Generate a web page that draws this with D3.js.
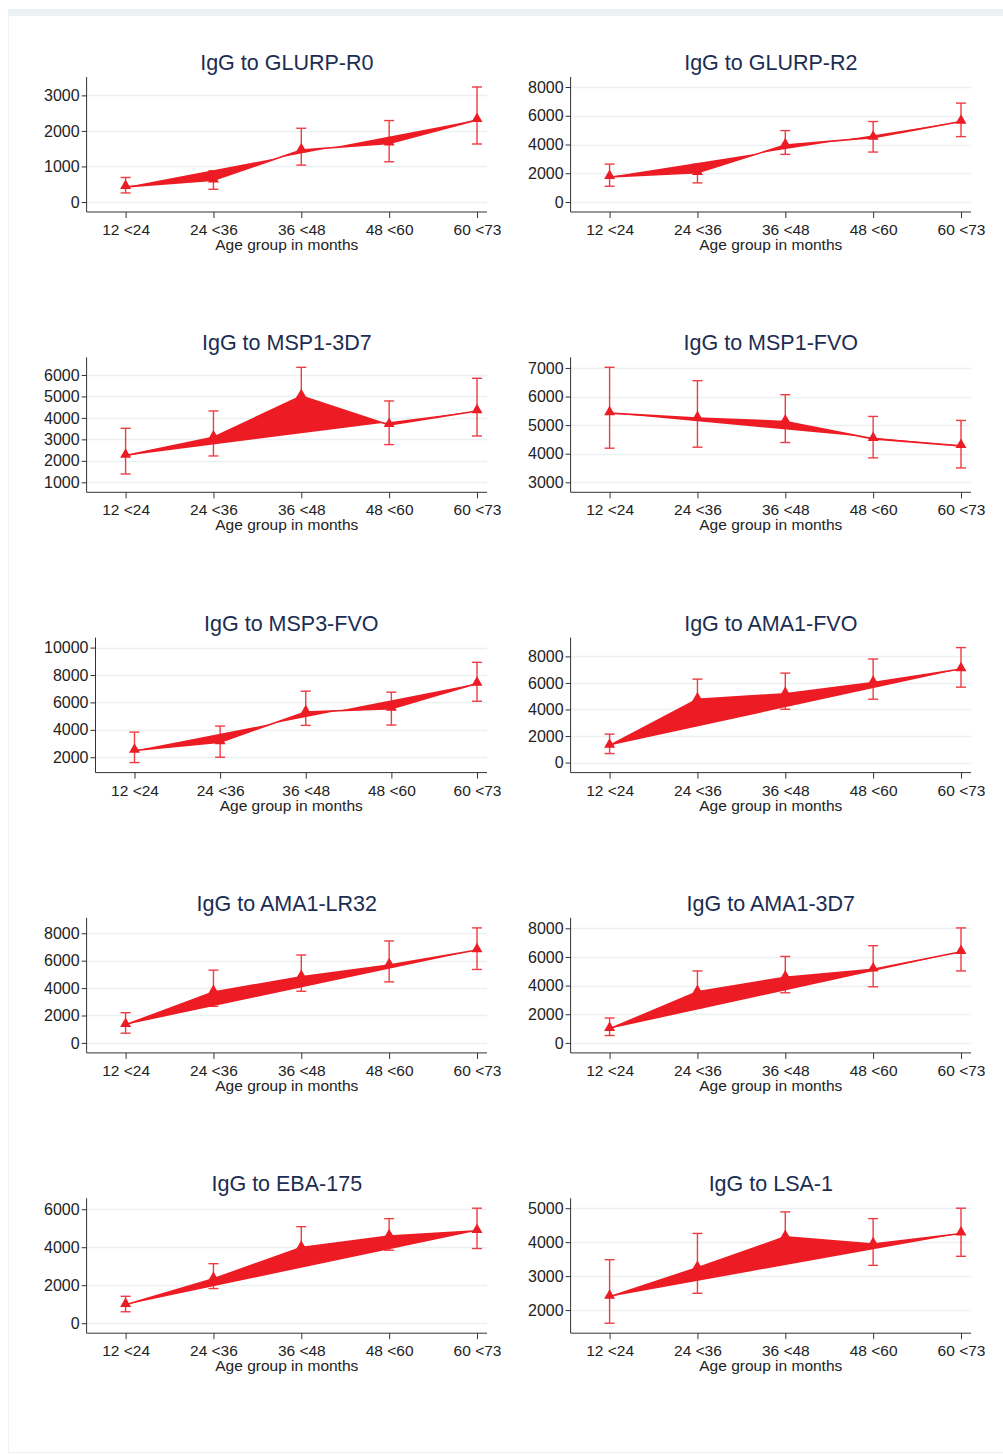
<!DOCTYPE html>
<html>
<head>
<meta charset="utf-8">
<script src="https://cdn.jsdelivr.net/npm/d3@7"></script>
<style>
  body { margin: 0; background: #fff; }
  svg text { font-family: "Liberation Sans", Arial, sans-serif; }
</style>
</head>
<body>
<svg id="chart" width="1003" height="1454"></svg>
<script>
var age_groups = ["12 <24", "24 <36", "36 <48", "48 <60", "60 <73"];

var titles = ["IgG to GLURP-R0", "IgG to GLURP-R2", "IgG to MSP1-3D7", "IgG to MSP1-FVO",
  "IgG to MSP3-FVO", "IgG to AMA1-FVO", "IgG to AMA1-LR32", "IgG to AMA1-3D7",
  "IgG to EBA-175", "IgG to LSA-1"];

var y_ticks = [
  [0, 1000, 2000, 3000],
  [0, 2000, 4000, 6000, 8000],
  [1000, 2000, 3000, 4000, 5000, 6000],
  [3000, 4000, 5000, 6000, 7000],
  [2000, 4000, 6000, 8000, 10000],
  [0, 2000, 4000, 6000, 8000],
  [0, 2000, 4000, 6000, 8000],
  [0, 2000, 4000, 6000, 8000],
  [0, 2000, 4000, 6000],
  [2000, 3000, 4000, 5000]
];

// mean titre per age group
var means = [
  [425, 613, 1462, 1650, 2311],
  [1750, 2030, 3965, 4478, 5598],
  [2242, 3096, 5022, 3671, 4323],
  [5421, 5246, 5129, 4520, 4275],
  [2489, 3101, 5303, 5547, 7382],
  [1288, 4773, 5177, 6035, 7045],
  [1321, 3719, 4820, 5676, 6777],
  [986, 3568, 4577, 5141, 6362],
  [973, 2336, 3982, 4584, 4867],
  [2396, 3248, 4158, 3941, 4257]
];

// upper / lower confidence limits
var upper = [
  [690, 880, 2075, 2292, 3236],
  [2636, 2620, 4968, 5598, 6880],
  [3516, 4323, 6357, 4789, 5845],
  [7023, 6556, 6064, 5304, 5164],
  [3835, 4275, 6820, 6746, 8924],
  [2146, 6288, 6742, 7803, 8662],
  [2202, 5309, 6410, 7437, 8391],
  [1737, 5023, 6033, 6784, 8028],
  [1416, 3133, 5080, 5504, 6053],
  [3485, 4257, 4891, 4693, 5000]
];

var lower = [
  [255, 358, 1038, 1132, 1632],
  [1096, 1330, 3312, 3475, 4548],
  [1388, 2227, 3800, 2755, 3158],
  [4193, 4228, 4392, 3854, 3503],
  [1609, 2000, 4324, 4349, 6086],
  [682, 3400, 4015, 4773, 5682],
  [709, 2667, 3768, 4453, 5358],
  [516, 2450, 3498, 3920, 5023],
  [602, 1823, 3050, 3841, 3929],
  [1614, 2495, 3450, 3317, 3584]
];

var red = "#ed1c24";
var bar_red = "#ef3c42";
var grid_col = "#e9f1f3";
var axis_col = "#333333";

var svg = d3.select("#chart");

// light frame round the graph
svg.append("rect").attr("x", 8).attr("y", 9).attr("width", 1003).attr("height", 7).attr("fill", "#eaf2f4");
svg.append("line").attr("x1", 8.5).attr("x2", 8.5).attr("y1", 9).attr("y2", 1452).attr("stroke", "#eaf2f4");
svg.append("line").attr("x1", 8).attr("x2", 1003).attr("y1", 1452.5).attr("y2", 1452.5).attr("stroke", "#eaf2f4");

function label_width(text, size) {
  var t = svg.append("text").attr("font-size", size).text(text);
  var w = t.node().getComputedTextLength();
  t.remove();
  return w;
}

function draw_panel(i) {
  var col = i % 2;
  var row = Math.floor(i / 2);
  var top = 77 + row * 280.3;
  var bottom = top + 135;
  var label_start = col == 0 ? 46 : 530;
  var right = col == 0 ? 487 : 971;

  var ticks = y_ticks[i];
  var max_w = d3.max(ticks, function(t) { return label_width(String(t), 16); });
  var left = label_start + max_w + 5;

  var x = d3.scalePoint().domain(age_groups).range([left + 39, right - 10]);
  var y_min = Math.min(ticks[0], d3.min(lower[i]));
  var y_max = Math.max(ticks[ticks.length - 1], d3.max(upper[i]));
  var y = d3.scaleLinear().domain([y_min, y_max]).range([bottom - 10, top + 10]);

  var g = svg.append("g").attr("class", "panel");

  // gridlines
  g.selectAll("line.grid").data(ticks).enter().append("line")
    .attr("class", "grid")
    .attr("x1", left).attr("x2", right)
    .attr("y1", function(d) { return Math.round(y(d)) + 0.5; })
    .attr("y2", function(d) { return Math.round(y(d)) + 0.5; })
    .attr("stroke", grid_col).attr("stroke-width", 1.3);

  // axes
  var y_axis = d3.axisLeft(y).tickValues(ticks).tickSize(5).tickPadding(2).tickFormat(d3.format("d"));
  var ya = g.append("g").attr("transform", "translate(" + left + ",0)").call(y_axis);
  ya.select(".domain").attr("d", "M0," + top + "V" + bottom).attr("stroke", axis_col);
  ya.selectAll(".tick line").attr("stroke", axis_col);
  ya.selectAll(".tick text").attr("font-size", 16).attr("fill", "#222").attr("font-family", null);

  var x_axis = d3.axisBottom(x).tickSize(6).tickPadding(6);
  var xa = g.append("g").attr("transform", "translate(0," + bottom + ")").call(x_axis);
  xa.select(".domain").attr("d", "M" + left + ",0H" + right).attr("stroke", axis_col);
  xa.selectAll(".tick line").attr("stroke", axis_col);
  xa.selectAll(".tick text").attr("font-size", 15.5).attr("fill", "#222").attr("font-family", null);

  g.append("text")
    .attr("x", (left + right) / 2).attr("y", bottom + 38)
    .attr("text-anchor", "middle").attr("font-size", 15.5).attr("fill", "#222")
    .text("Age group in months");

  g.append("text")
    .attr("x", (left + right) / 2).attr("y", top - 7)
    .attr("text-anchor", "middle").attr("font-size", 21.5).attr("fill", "#1c2d52")
    .text(titles[i]);

  var pts = age_groups.map(function(a, j) {
    return { age: a, m: means[i][j], hi: upper[i][j], lo: lower[i][j] };
  });

  // error bars with caps
  var bars = g.selectAll("g.bar").data(pts).enter().append("g").attr("class", "bar")
    .attr("stroke", bar_red).attr("stroke-width", 1.4).attr("fill", "none");
  bars.append("line")
    .attr("x1", function(d) { return x(d.age); }).attr("x2", function(d) { return x(d.age); })
    .attr("y1", function(d) { return y(d.hi); }).attr("y2", function(d) { return y(d.lo); });
  bars.append("line")
    .attr("x1", function(d) { return x(d.age) - 5; }).attr("x2", function(d) { return x(d.age) + 5; })
    .attr("y1", function(d) { return y(d.hi); }).attr("y2", function(d) { return y(d.hi); });
  bars.append("line")
    .attr("x1", function(d) { return x(d.age) - 5; }).attr("x2", function(d) { return x(d.age) + 5; })
    .attr("y1", function(d) { return y(d.lo); }).attr("y2", function(d) { return y(d.lo); });

  // the connected line, filled (closes back from last to first point)
  var line = d3.line().x(function(d) { return x(d.age); }).y(function(d) { return y(d.m); });
  g.append("path").datum(pts)
    .attr("d", line)
    .attr("fill", red).attr("stroke", red).attr("stroke-width", 1.6)
    .attr("stroke-linejoin", "round");

  var tri = d3.symbol().type(d3.symbolTriangle).size(52);
  g.selectAll("path.marker").data(pts).enter().append("path")
    .attr("class", "marker")
    .attr("d", tri)
    .attr("transform", function(d) { return "translate(" + x(d.age) + "," + (y(d.m) - 1) + ")"; })
    .attr("fill", red);
}

for (var i = 0; i < titles.length; i++) {
  draw_panel(i);
}
</script>
</body>
</html>
